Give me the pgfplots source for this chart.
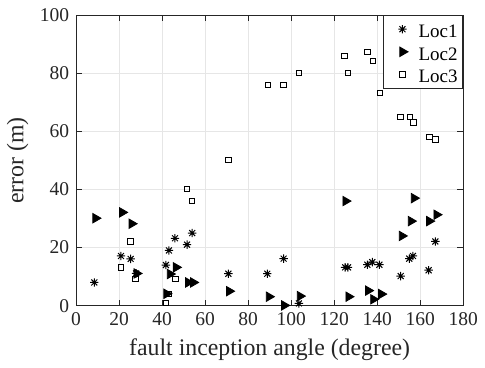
\documentclass[border=0pt]{standalone}
\usepackage{fontspec}
\setmainfont{Liberation Serif}
\usepackage{pgfplots}
\pgfplotsset{compat=1.18}
\definecolor{axgray}{HTML}{262626}
\definecolor{gridgray}{HTML}{E6E6E6}
\pgfdeclareplotmark{mstar}{%
  \pgfpathmoveto{\pgfqpoint{-\pgfplotmarksize}{0pt}}\pgfpathlineto{\pgfqpoint{\pgfplotmarksize}{0pt}}%
  \pgfpathmoveto{\pgfqpoint{0pt}{-\pgfplotmarksize}}\pgfpathlineto{\pgfqpoint{0pt}{\pgfplotmarksize}}%
  \pgfpathmoveto{\pgfqpoint{-0.7071\pgfplotmarksize}{-0.7071\pgfplotmarksize}}\pgfpathlineto{\pgfqpoint{0.7071\pgfplotmarksize}{0.7071\pgfplotmarksize}}%
  \pgfpathmoveto{\pgfqpoint{-0.7071\pgfplotmarksize}{0.7071\pgfplotmarksize}}\pgfpathlineto{\pgfqpoint{0.7071\pgfplotmarksize}{-0.7071\pgfplotmarksize}}%
  \pgfusepathqstroke}
\begin{document}
\fontsize{9.75pt}{11.7pt}\selectfont
\begin{tikzpicture}
\begin{axis}[
  scale only axis,
  width=193.65pt, height=145.35pt,
  xmin=0, xmax=180, ymin=0, ymax=100,
  xtick={0,20,...,180}, ytick={0,20,...,100},
  tick align=inside,
  major tick length=3pt,
  grid=major,
  grid style={gridgray, line width=0.4pt},
  axis line style={axgray, line width=0.5pt},
  tick style={axgray, line width=0.5pt},
  every tick label/.append style={text=axgray, font=\fontsize{9.75pt}{11.7pt}\selectfont},
  /pgf/number format/assume math mode=true,
  xlabel={fault inception angle (degree)},
  ylabel={error (m)},
  label style={text=axgray, font=\fontsize{11.9pt}{14.2pt}\selectfont},
  xlabel style={yshift=0pt},
  ylabel style={yshift=-1pt},
  legend style={at={(1,1)}, anchor=north east, draw=axgray, line width=0.5pt, fill=white,
    font=\fontsize{9.5pt}{11.4pt}\selectfont, row sep=0pt, column sep=0pt,
    inner xsep=0.5pt, inner ysep=1.2pt,
    nodes={text height=8.8pt, text depth=0.5pt, inner ysep=1pt, inner xsep=2.1pt}},
  legend image code/.code={\draw[#1] plot coordinates {(8.5pt,0pt)}; \path (0pt,0pt) (14.2pt,0pt);},
  legend cell align=left,
]
\addplot[only marks, mark=mstar, mark size=2.1pt, black, line width=0.5pt] coordinates {
(8.5,8) (20.9,17.1) (25.4,16.1) (27.9,11.1) (41.8,14) (43.2,19) (46,23.2) (51.6,21) (54,25)
(70.8,11) (88.9,11) (96.5,16.2) (103.6,0.8) (125.1,13.2) (126.4,13.2) (135.4,14.1) (137.7,15)
(141,14.1) (150.9,10.2) (154.9,16.2) (156.6,17.1) (163.9,12.2) (167,22.1)
};
\addlegendentry{Loc1}
\addplot[only marks, mark=triangle*, mark size=2.7pt, black, mark options={rotate=-90}] coordinates {
(9.1,30.1) (21.5,32.1) (25.9,28.2) (28.2,11.1) (42.1,4.1) (43.7,10.9) (46.5,13.2) (52.2,8) (54.5,8)
(71.2,5) (89.7,3.1) (96.8,0.1) (104.1,3.3) (125.3,36) (126.7,3.1) (135.8,5.2) (138.2,2.2) (141.9,4)
(151.5,24) (155.7,29.1) (157.1,37) (164.2,29.1) (167.6,31.3)
};
\addlegendentry{Loc2}
\addplot[only marks, mark=square, mark size=1.35pt, black, line width=0.5pt] coordinates {
(70.8,50.1) (89.2,76) (96.5,76) (103.6,80.1) (124.8,86) (126.4,80.1) (135.4,87.2) (137.9,84.1)
(141.3,73.1) (150.9,65) (155.2,65) (156.8,63) (164.2,58.1) (167.1,57.2) (51.7,40.1) (54,36.1)
(25.4,22.1) (21,13.2) (27.6,9.1) (46.2,9.1) (43.2,4.1) (41.8,1)
};
\addlegendentry{Loc3}
\coordinate (sw) at (rel axis cs:0,0);
\coordinate (ne) at (rel axis cs:1,1);
\end{axis}
\path ([shift={(-38pt,-29.15pt)}]sw) rectangle ([shift={(10.85pt,7.5pt)}]ne);
\end{tikzpicture}
\end{document}
